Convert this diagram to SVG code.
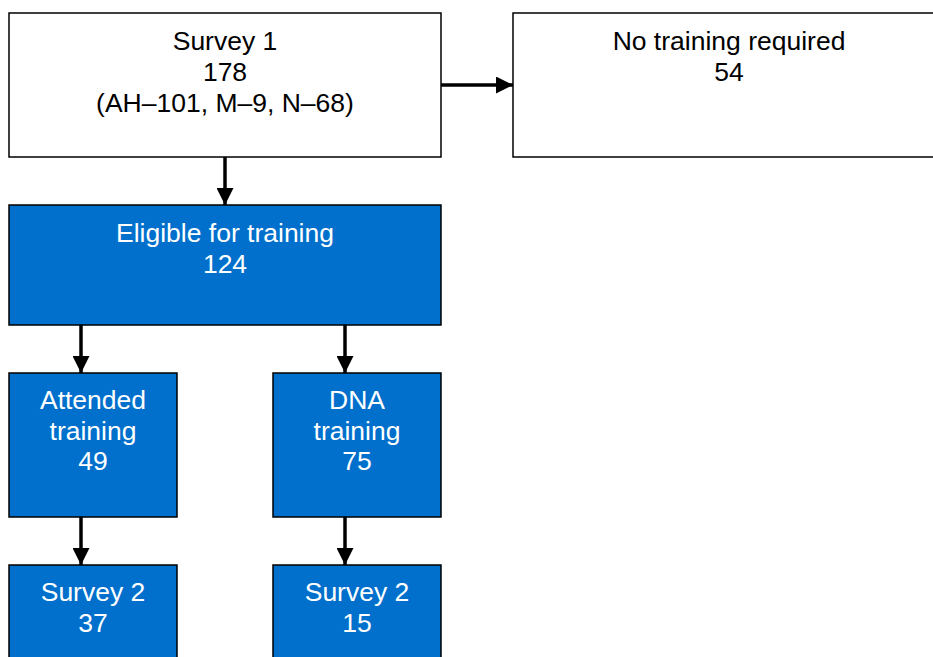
<svg xmlns="http://www.w3.org/2000/svg" width="933" height="657" viewBox="0 0 933 657">
<defs>
<style>
.box{stroke:#000;stroke-width:1.5}
.w{fill:#fff}
.b{fill:#0070CC}
text{font-family:"Liberation Sans",Arial,sans-serif;font-size:26.5px;text-anchor:middle}
.tb{fill:#000}
.tw{fill:#fff}
.c{stroke:#000;stroke-width:3.5;fill:none}
</style>
<marker id="ah" markerUnits="userSpaceOnUse" markerWidth="17" markerHeight="17" viewBox="0 0 16 16" refX="16" refY="8" orient="auto">
<path d="M0,0 L16,8 L0,16 Z" fill="#000"/>
</marker>
</defs>
<rect width="933" height="657" fill="#fff"/>
<g id="connectors">
<line class="c" x1="441" y1="85" x2="513" y2="85" marker-end="url(#ah)"/>
<line class="c" x1="225" y1="157" x2="225" y2="205" marker-end="url(#ah)"/>
<line class="c" x1="81" y1="325" x2="81" y2="373" marker-end="url(#ah)"/>
<line class="c" x1="345" y1="325" x2="345" y2="373" marker-end="url(#ah)"/>
<line class="c" x1="81" y1="517" x2="81" y2="565" marker-end="url(#ah)"/>
<line class="c" x1="345" y1="517" x2="345" y2="565" marker-end="url(#ah)"/>
</g>
<g id="survey1">
<rect class="box w" x="9" y="13" width="432" height="144"/>
<text class="tb" x="225" y="50">Survey 1</text>
<text class="tb" x="225" y="81">178</text>
<text class="tb" x="225" y="112">(AH–101, M–9, N–68)</text>
</g>
<g id="no-training">
<rect class="box w" x="513" y="13" width="432" height="144"/>
<text class="tb" x="729" y="50">No training required</text>
<text class="tb" x="729" y="81">54</text>
</g>
<g id="eligible">
<rect class="box b" x="9" y="205" width="432" height="120"/>
<text class="tw" x="225" y="242">Eligible for training</text>
<text class="tw" x="225" y="273">124</text>
</g>
<g id="attended">
<rect class="box b" x="9" y="373" width="168" height="144"/>
<text class="tw" x="93" y="409">Attended</text>
<text class="tw" x="93" y="440">training</text>
<text class="tw" x="93" y="470">49</text>
</g>
<g id="dna">
<rect class="box b" x="273" y="373" width="168" height="144"/>
<text class="tw" x="357" y="409">DNA</text>
<text class="tw" x="357" y="440">training</text>
<text class="tw" x="357" y="470">75</text>
</g>
<g id="survey2-attended">
<rect class="box b" x="9" y="565" width="168" height="144"/>
<text class="tw" x="93" y="601">Survey 2</text>
<text class="tw" x="93" y="632">37</text>
</g>
<g id="survey2-dna">
<rect class="box b" x="273" y="565" width="168" height="144"/>
<text class="tw" x="357" y="601">Survey 2</text>
<text class="tw" x="357" y="632">15</text>
</g>
</svg>
